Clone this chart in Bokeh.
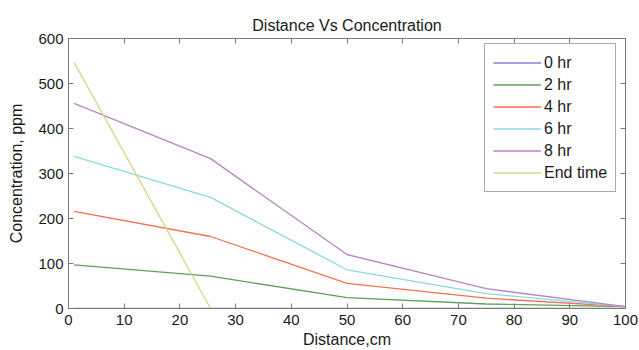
from bokeh.plotting import figure
from bokeh.models import LinearAxis, Range1d, Legend, LegendItem, FixedTicker, CustomJSTickFormatter
from bokeh.embed import file_html
from bokeh.resources import INLINE

distance = [1, 25.5, 50, 75, 100]
c_0hr = [0, 0, 0, 0, 0]
c_2hr = [97, 72, 24, 10, 4]
c_4hr = [216, 160, 56, 23, 4]
c_6hr = [338, 247, 86, 33, 4]
c_8hr = [456, 333, 120, 44, 4]
c_end = [547, 0, 0, 0, 0]
series_names = ["0 hr", "2 hr", "4 hr", "6 hr", "8 hr", "End time"]
series_vals = [c_0hr, c_2hr, c_4hr, c_6hr, c_8hr, c_end]
colors = ["#8080d8", "#5fa05f", "#f27052", "#8cd8dc", "#b886c0", "#d6d488"]
x_ticks = [0, 10, 20, 30, 40, 50, 60, 70, 80, 90, 100]
y_ticks = [0, 100, 200, 300, 400, 500, 600]

FONT = "Liberation Sans"
TXT = "#1a1a1a"
AX = "#7a7a7a"

p = figure(width=639, height=350, output_backend="svg", toolbar_location=None,
           x_range=Range1d(0, 100), y_range=Range1d(0, 600),
           min_border_left=68, min_border_right=14, min_border_top=38, min_border_bottom=42)
p.title.text = "Distance Vs Concentration"
p.title.align = "center"
p.title.text_font = FONT
p.title.text_font_size = "16px"
p.title.text_font_style = "normal"
p.title.text_color = TXT
p.xgrid.visible = False
p.ygrid.visible = False
p.outline_line_color = "#555555"

items = []
for name, vals, col in zip(series_names, series_vals, colors):
    r = p.line(distance, vals, line_color=col, line_width=1.3)
    items.append(LegendItem(label=name, renderers=[r]))

for ax, ticks in ((p.xaxis[0], x_ticks), (p.yaxis[0], y_ticks)):
    ax.ticker = FixedTicker(ticks=ticks)
    ax.major_tick_in = 5
    ax.major_tick_out = 0
    ax.minor_tick_line_color = None
    ax.axis_line_color = AX
    ax.major_tick_line_color = AX
    ax.major_label_text_font = FONT
    ax.major_label_text_font_size = "15px"
    ax.major_label_text_color = TXT
    ax.axis_label_text_font = FONT
    ax.axis_label_text_font_size = "16px"
    ax.axis_label_text_font_style = "normal"
    ax.axis_label_text_color = TXT

p.xaxis[0].axis_label = "Distance,cm"
p.xaxis[0].major_label_standoff = 6
p.xaxis[0].axis_label_standoff = 3
p.yaxis[0].axis_label = "Concentration, ppm"
p.yaxis[0].major_label_standoff = 5
p.yaxis[0].axis_label_standoff = 10

top = LinearAxis(ticker=FixedTicker(ticks=x_ticks))
right = LinearAxis(ticker=FixedTicker(ticks=y_ticks))
for ax in (top, right):
    ax.major_tick_in = 5
    ax.major_tick_out = 0
    ax.minor_tick_line_color = None
    ax.axis_line_color = AX
    ax.major_tick_line_color = AX
    ax.formatter = CustomJSTickFormatter(code="return ''")
    ax.major_label_standoff = 0
p.add_layout(top, "above")
p.add_layout(right, "right")

legend = Legend(items=items, location=(416, 116))
legend.border_line_color = "#555555"
legend.label_text_font = FONT
legend.label_text_font_size = "16px"
legend.label_text_color = TXT
legend.glyph_width = 48
legend.glyph_height = 21
legend.label_height = 21
legend.label_standoff = 3
legend.padding = 8
legend.spacing = 1
legend.margin = 0
p.add_layout(legend)

open("out.html", "w").write(file_html(p, INLINE))
